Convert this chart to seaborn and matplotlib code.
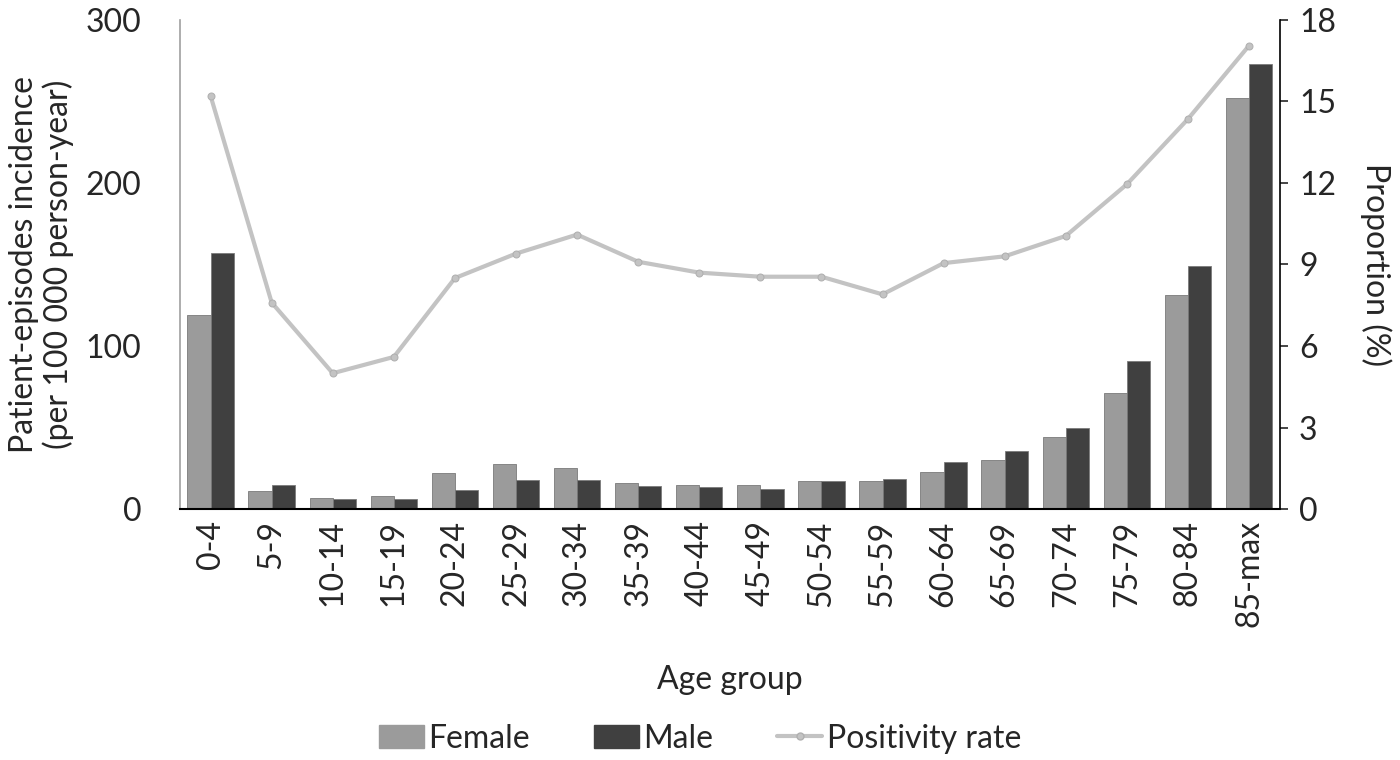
import seaborn as sns
import matplotlib.pyplot as plt
import pandas as pd
import numpy as np
from matplotlib.patches import Patch
from matplotlib.lines import Line2D

sns.set_style("white")
plt.rcParams['font.family'] = ['Lato', 'DejaVu Sans']

age_groups = ["0-4", "5-9", "10-14", "15-19", "20-24", "25-29", "30-34", "35-39",
              "40-44", "45-49", "50-54", "55-59", "60-64", "65-69", "70-74", "75-79",
              "80-84", "85-max"]
female = [119, 11, 7, 8, 22, 28, 25, 16, 15, 15, 17, 17, 23, 30, 44, 71, 131, 252]
male = [157, 15, 6, 6, 12, 18, 18, 14.5, 13.5, 12.5, 17, 18.6, 29, 35.6, 50, 91, 149, 273]
positivity = [15.2, 7.6, 5.0, 5.6, 8.5, 9.4, 10.1, 9.1, 8.7, 8.55, 8.55, 7.9,
              9.05, 9.3, 10.05, 11.95, 14.35, 17.05]

df = pd.DataFrame({
    "age": age_groups * 2,
    "value": female + male,
    "sex": ["Female"] * len(age_groups) + ["Male"] * len(age_groups),
})

FS = 23

fig = plt.figure(figsize=(14, 7.6), dpi=100)
ax = fig.add_axes([0.1286, 0.330, 0.7854, 0.644])

sns.barplot(data=df, x="age", y="value", hue="sex", order=age_groups,
            palette={"Female": "#9b9b9b", "Male": "#404040"}, width=0.76,
            edgecolor="#7a7a7a", linewidth=0.6, ax=ax, legend=False)
ax.set_ylim(0, 300)
ax.set_yticks([0, 100, 200, 300])
ax.set_xlim(-0.5, len(age_groups) - 0.5)
ax.tick_params(axis="x", labelrotation=90, labelsize=FS, length=0, pad=8)
ax.tick_params(axis="y", labelsize=FS, length=0, pad=28)
ax.set_xlabel("Age group", fontsize=FS, labelpad=27)
ax.set_ylabel("Patient-episodes incidence\n(per 100 000 person-year)", fontsize=FS,
              labelpad=8, linespacing=1.15)
for side in ["top", "right"]:
    ax.spines[side].set_visible(False)
ax.spines["left"].set_color("#a0a0a0")
ax.spines["left"].set_linewidth(1.2)
ax.spines["bottom"].set_color("#000000")
ax.spines["bottom"].set_linewidth(1.5)

ax2 = ax.twinx()
sns.lineplot(x=np.arange(len(age_groups)), y=positivity, ax=ax2, color="#c3c3c3",
             linewidth=3, marker="o", markersize=5, markeredgecolor="#b0b0b0",
             label="Positivity rate", legend=False)
ax2.set_ylim(0, 18)
ax2.set_yticks(range(0, 19, 3))
ax2.tick_params(axis="y", labelsize=FS, length=6, width=1.2, direction="out", pad=8)
ax2.set_ylabel("Proportion (%)", fontsize=FS, rotation=-90, labelpad=40)
for side in ["top", "left", "bottom"]:
    ax2.spines[side].set_visible(False)
ax2.spines["right"].set_color("#000000")
ax2.spines["right"].set_linewidth(1.2)

handles = [Patch(facecolor="#9b9b9b", edgecolor="#9b9b9b", label="Female"),
           Patch(facecolor="#404040", edgecolor="#404040", label="Male"),
           Line2D([0], [0], color="#c3c3c3", linewidth=3, marker="o", markersize=5,
                  markeredgecolor="#b0b0b0", label="Positivity rate")]
fig.legend(handles=handles, loc="center", bbox_to_anchor=(0.5, 0.028), ncol=3,
           frameon=False, fontsize=FS, handlelength=1.4, handleheight=0.75,
           columnspacing=2.0, handletextpad=0.15)

fig.savefig("out.png", dpi=100)
